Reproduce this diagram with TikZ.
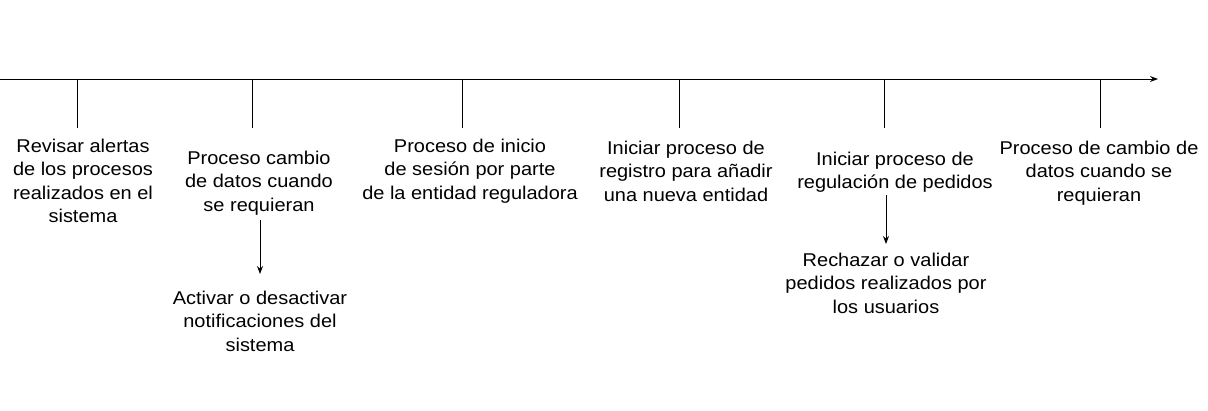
\documentclass[tikz,border=0pt]{standalone}
\usepackage{fontspec}
\setmainfont{Liberation Sans}[FakeStretch=1.08]
\usetikzlibrary{arrows.meta}
\begin{document}
\begin{tikzpicture}[x=1pt,y=-1pt,
  lbl/.style={align=center,inner sep=0pt,font=\fontsize{18.5}{23.5}\selectfont},
  ln/.style={line width=1pt,draw=black},
  arr/.style={ln,-{Stealth[length=8pt,width=6pt]}}]
\useasboundingbox (0,0) rectangle (1208,410);
\coordinate (s) at (0,79);
\coordinate (e) at (1158,79);
\draw[arr] (s) -- (e);
\foreach \n/\x in {a/77,b/252,c/462,d/679,f/884,g/1100}{
  \coordinate (t\n) at (\x,79);
  \coordinate (b\n) at (\x,128);
  \draw[ln] (t\n) -- (b\n);
}
\node[lbl] (n1) at (83,181) {Revisar alertas\\de los procesos\\realizados en el\\sistema};
\node[lbl] (n2) at (259,183) {Proceso cambio\\de datos cuando\\se requieran};
\node[lbl] (n2b) at (260,321) {Activar o desactivar\\notificaciones del\\sistema};
\node[lbl] (n3) at (470,171) {Proceso de inicio\\de sesión por parte\\de la entidad reguladora};
\node[lbl] (n4) at (686,171) {Iniciar proceso de\\registro para añadir\\una nueva entidad};
\node[lbl] (n5) at (895,172) {Iniciar proceso de\\regulación de pedidos};
\node[lbl] (n5b) at (886,283) {Rechazar o validar\\pedidos realizados por\\los usuarios};
\node[lbl] (n6) at (1099,173) {Proceso de cambio de\\datos cuando se\\requieran};
\coordinate (a2s) at (260,220);
\coordinate (a2e) at (260,274);
\draw[arr] (a2s) -- (a2e);
\coordinate (a5s) at (886,195);
\coordinate (a5e) at (886,244);
\draw[arr] (a5s) -- (a5e);
\end{tikzpicture}
\end{document}
